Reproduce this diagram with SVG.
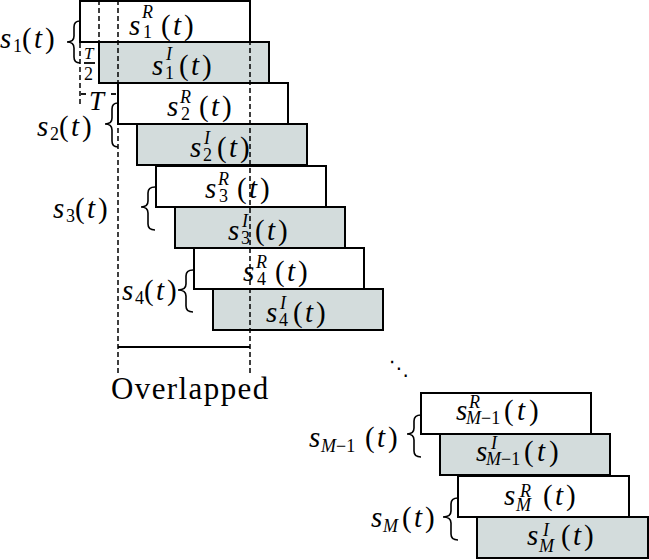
<svg xmlns="http://www.w3.org/2000/svg" width="649" height="560" viewBox="0 0 649 560">
<style>
text{font-family:"Liberation Serif","Times New Roman",serif;fill:#000}
.bx{stroke:#000;stroke-width:2}
.r{fill:#fff}
.g{fill:#d3dcdc}
.i{font-style:italic;font-size:29px}
.n{font-size:29px}
.si{font-style:italic;font-size:18px}
.sn{font-size:18px}
.br{fill:none;stroke:#000;stroke-width:1.6}
.dash{fill:none;stroke:#000;stroke-width:1.5;stroke-dasharray:5 3}
.ln{fill:none;stroke:#000;stroke-width:1.8}
</style>
<rect width="649" height="560" fill="#fff"/>

<g id="box-s1R"><rect class="bx r" x="80" y="1" width="170" height="41"/>
<text><tspan class="i" x="129" y="35">s</tspan><tspan class="si" x="142" y="18">R</tspan><tspan class="sn" x="143" y="38">1</tspan><tspan class="n" x="161" y="35">(</tspan><tspan class="i" x="173" y="35">t</tspan><tspan class="n" x="184" y="35">)</tspan></text></g>
<g id="box-s1I"><rect class="bx g" x="99" y="42" width="170" height="41"/>
<text><tspan class="i" x="152" y="75">s</tspan><tspan class="si" x="166" y="60">I</tspan><tspan class="sn" x="165" y="79">1</tspan><tspan class="n" x="179" y="75">(</tspan><tspan class="i" x="191" y="75">t</tspan><tspan class="n" x="202" y="75">)</tspan></text></g>
<g id="box-s2R"><rect class="bx r" x="118" y="83" width="170" height="41"/>
<text><tspan class="i" x="167" y="116">s</tspan><tspan class="si" x="180" y="103">R</tspan><tspan class="sn" x="181" y="120">2</tspan><tspan class="n" x="199" y="116">(</tspan><tspan class="i" x="211" y="116">t</tspan><tspan class="n" x="222" y="116">)</tspan></text></g>
<g id="box-s2I"><rect class="bx g" x="137" y="124" width="170" height="41"/>
<text><tspan class="i" x="190" y="157">s</tspan><tspan class="si" x="204" y="144">I</tspan><tspan class="sn" x="203" y="161">2</tspan><tspan class="n" x="217" y="157">(</tspan><tspan class="i" x="229" y="157">t</tspan><tspan class="n" x="240" y="157">)</tspan></text></g>
<g id="box-s3R"><rect class="bx r" x="156" y="166" width="170" height="41"/>
<text><tspan class="i" x="205" y="198">s</tspan><tspan class="si" x="218" y="185">R</tspan><tspan class="sn" x="219" y="202">3</tspan><tspan class="n" x="237" y="198">(</tspan><tspan class="i" x="249" y="198">t</tspan><tspan class="n" x="260" y="198">)</tspan></text></g>
<g id="box-s3I"><rect class="bx g" x="175" y="207" width="170" height="41"/>
<text><tspan class="i" x="228" y="240">s</tspan><tspan class="si" x="242" y="227">I</tspan><tspan class="sn" x="241" y="244">3</tspan><tspan class="n" x="255" y="240">(</tspan><tspan class="i" x="267" y="240">t</tspan><tspan class="n" x="278" y="240">)</tspan></text></g>
<g id="box-s4R"><rect class="bx r" x="194" y="248" width="170" height="41"/>
<text><tspan class="i" x="243" y="281">s</tspan><tspan class="si" x="256" y="268">R</tspan><tspan class="sn" x="257" y="285">4</tspan><tspan class="n" x="275" y="281">(</tspan><tspan class="i" x="287" y="281">t</tspan><tspan class="n" x="298" y="281">)</tspan></text></g>
<g id="box-s4I"><rect class="bx g" x="213" y="289" width="170" height="41"/>
<text><tspan class="i" x="266" y="322">s</tspan><tspan class="si" x="280" y="309">I</tspan><tspan class="sn" x="279" y="326">4</tspan><tspan class="n" x="293" y="322">(</tspan><tspan class="i" x="305" y="322">t</tspan><tspan class="n" x="316" y="322">)</tspan></text></g>

<g id="box-sM1R"><rect class="bx r" x="421" y="393" width="170" height="41"/>
<text><tspan class="i" x="456" y="420">s</tspan><tspan class="si" x="469" y="408">R</tspan><tspan class="si" x="466" y="424">M</tspan><tspan class="sn" x="481" y="424">−1</tspan><tspan class="n" x="504" y="420">(</tspan><tspan class="i" x="517" y="420">t</tspan><tspan class="n" x="529" y="420">)</tspan></text></g>
<g id="box-sM1I"><rect class="bx g" x="440" y="434" width="170" height="41"/>
<text><tspan class="i" x="476" y="461">s</tspan><tspan class="si" x="491" y="449">I</tspan><tspan class="si" x="486" y="465">M</tspan><tspan class="sn" x="501" y="465">−1</tspan><tspan class="n" x="524" y="461">(</tspan><tspan class="i" x="537" y="461">t</tspan><tspan class="n" x="549" y="461">)</tspan></text></g>
<g id="box-sMR"><rect class="bx r" x="458" y="476" width="171" height="41"/>
<text><tspan class="i" x="504" y="505">s</tspan><tspan class="si" x="520" y="497">R</tspan><tspan class="si" x="516" y="511">M</tspan><tspan class="n" x="543" y="505">(</tspan><tspan class="i" x="555" y="505">t</tspan><tspan class="n" x="566" y="505">)</tspan></text></g>
<g id="box-sMI"><rect class="bx g" x="477" y="517" width="171" height="41"/>
<text><tspan class="i" x="527" y="545">s</tspan><tspan class="si" x="543" y="536">I</tspan><tspan class="si" x="539" y="552">M</tspan><tspan class="n" x="561" y="545">(</tspan><tspan class="i" x="573" y="545">t</tspan><tspan class="n" x="584" y="545">)</tspan></text></g>

<g id="connectors">
<line class="dash" x1="99" y1="0" x2="99" y2="42"/>
<line class="dash" x1="80" y1="43" x2="80" y2="106"/>
<line class="dash" x1="118" y1="0" x2="118" y2="374"/>
<line class="dash" x1="250" y1="0" x2="250" y2="374"/>
<line class="ln" x1="81" y1="94" x2="86" y2="94"/>
<line class="ln" x1="111" y1="94" x2="116" y2="94"/>
<line class="ln" x1="118" y1="347" x2="250" y2="347"/>
<line class="ln" x1="84" y1="63" x2="95" y2="63"/>
<path class="br" d="M80 21 Q74 21 74 27 L74 36 Q74 42 67 42 Q74 42 74 48 L74 57 Q74 63 80 63"/>
<path class="br" d="M118 103 Q112 103 112 109 L112 118 Q112 124 105 124 Q112 124 112 130 L112 141 Q112 147 118 147"/>
<path class="br" d="M155 187 Q148 187 148 193 L148 201 Q148 207 141 207 Q148 207 148 213 L148 224 Q148 230 155 230"/>
<path class="br" d="M193 270 Q186 270 186 276 L186 284 Q186 290 178 290 Q186 290 186 296 L186 306 Q186 312 193 312"/>
<path class="br" d="M421 415 Q414 415 414 421 L414 428 Q414 434 407 434 Q414 434 414 440 L414 451 Q414 457 421 457"/>
<path class="br" d="M458 498 Q451 498 451 504 L451 511 Q451 517 443 517 Q451 517 451 523 L451 534 Q451 540 458 540"/>
</g>

<g id="labels">
<text><tspan class="i" x="0" y="48">s</tspan><tspan class="sn" x="13" y="52">1</tspan><tspan class="n" x="22" y="48">(</tspan><tspan class="i" x="34" y="48">t</tspan><tspan class="n" x="45" y="48">)</tspan></text>
<text><tspan class="i" x="37" y="136">s</tspan><tspan class="sn" x="50" y="140">2</tspan><tspan class="n" x="59" y="136">(</tspan><tspan class="i" x="71" y="136">t</tspan><tspan class="n" x="82" y="136">)</tspan></text>
<text><tspan class="i" x="53" y="218">s</tspan><tspan class="sn" x="66" y="222">3</tspan><tspan class="n" x="75" y="218">(</tspan><tspan class="i" x="87" y="218">t</tspan><tspan class="n" x="98" y="218">)</tspan></text>
<text><tspan class="i" x="122" y="300">s</tspan><tspan class="sn" x="135" y="304">4</tspan><tspan class="n" x="144" y="300">(</tspan><tspan class="i" x="156" y="300">t</tspan><tspan class="n" x="167" y="300">)</tspan></text>
<text><tspan class="i" x="309" y="447">s</tspan><tspan class="si" x="321" y="452">M</tspan><tspan class="sn" x="336" y="452">−1</tspan><tspan class="n" x="365" y="447">(</tspan><tspan class="i" x="377" y="447">t</tspan><tspan class="n" x="388" y="447">)</tspan></text>
<text><tspan class="i" x="371" y="527">s</tspan><tspan class="si" x="383" y="532">M</tspan><tspan class="n" x="402" y="527">(</tspan><tspan class="i" x="414" y="527">t</tspan><tspan class="n" x="425" y="527">)</tspan></text>
<text class="i" x="89" y="110" style="font-size:27px">T</text>
<text class="si" x="84" y="59" style="font-size:17px">T</text>
<text class="sn" x="84" y="80" style="font-size:18px">2</text>
<text x="111" y="399" style="font-size:31px;letter-spacing:1.4px">Overlapped</text>
<text x="389" y="375" style="font-family:'DejaVu Sans',sans-serif;font-size:20px">⋱</text>
</g>
</svg>
